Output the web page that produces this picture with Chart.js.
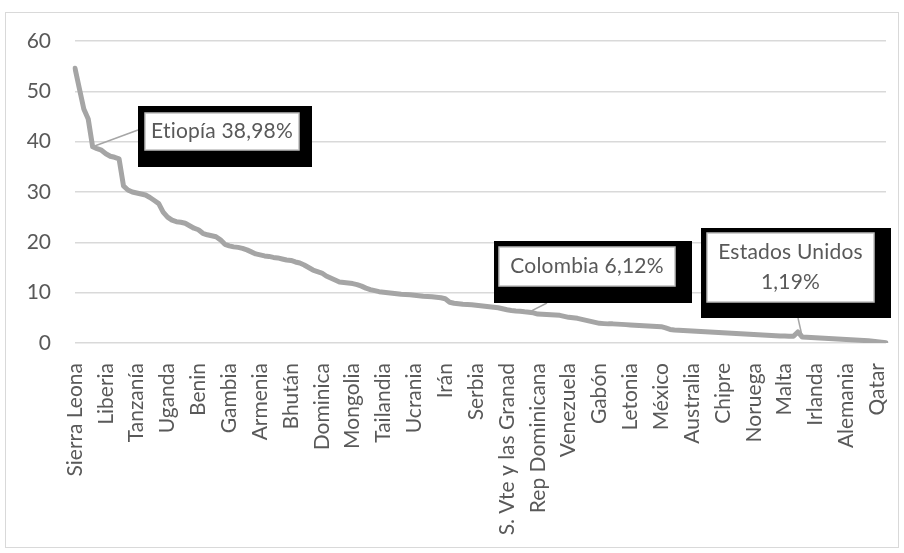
<!DOCTYPE html>
<html>
<head>
<meta charset="utf-8">
<script src="https://cdn.jsdelivr.net/npm/chart.js@4.4.1/dist/chart.umd.min.js"></script>
<style>
    html, body { margin: 0; padding: 0; background: #fff; }
    #wrap { position: relative; width: 904px; height: 553px; }
</style>
</head>
<body>
<div id="wrap"><canvas id="chart" width="904" height="553"></canvas></div>
<script>
// countries, sorted by share (%)
const countries = [
    'Sierra Leona','Chad','Rep. Centroafricana','Guinea-Bisáu','Etiopía','Níger','Malí','Liberia','Togo','Comoras',
    'Burundi','Kenia','Sudán','Burkina Faso','Tanzanía','Mozambique','Guinea','Madagascar','Nepal','Ruanda',
    'Malaui','Uganda','Afganistán','Camerún','Pakistán','Tayikistán','Myanmar','Kirguistán','Benin','Costa de Marfil',
    'Nigeria','Papúa Nueva Guinea','Haití','Islas Salomón','Camboya','Gambia','Ghana','Uzbekistán','Nicaragua','India',
    'Zambia','Laos','Armenia','Guyana','Vanuatu','Kiribati','Senegal','Mauritania','Albania','Bhután',
    'Bangladés','Vietnam','Timor Oriental','Honduras','Lesoto','Moldavia','Dominica','Belice','Paraguay','Georgia',
    'Zimbabue','Guatemala','Marruecos','Mongolia','Sri Lanka','Indonesia','Filipinas','Egipto','Tonga','Ecuador',
    'Tailandia','Argelia','Samoa','Bolivia','Malasia','Granada','Túnez','Ucrania','Azerbaiyán','Fiyi',
    'Bosnia y Herzegovina','Macedonia del Norte','Angola','China','Irán','Jamaica','El Salvador','Argentina','Turquía','Rumania',
    'Santa Lucía','Serbia','Uruguay','Bulgaria','Nueva Zelanda','Perú','Bielorrusia','Kazajistán','S. Vte y las Granad','Montenegro',
    'Costa Rica','Brasil','Esuatini','Colombia','Cabo Verde','Rep Dominicana','Croacia','Namibia','Grecia','Chile',
    'Lituania','Rusia','Venezuela','Hungría','Botsuana','Polonia','Islandia','San Cristóbal y Nieves','Panamá','Gabón',
    'Mauricio','Estonia','Eslovaquia','Maldivas','Jordania','Sudáfrica','Letonia','Líbano','Omán','Finlandia',
    'Barbados','España','Portugal','México','Corea del Sur','Israel','Francia','Italia','Eslovenia','Canadá',
    'Australia','Países Bajos','Austria','Dinamarca','Rep. Checa','Japón','Trinidad y Tobago','Chipre','Antigua y Barbuda','Bahamas',
    'Arabia Saudita','Suecia','Brunéi','Yibuti','Noruega','Suiza','Bélgica','Emiratos Árabes Unidos','Reino Unido','Puerto Rico',
    'Bermudas','Malta','Luxemburgo','Bahréin','Guinea Ecuatorial','Estados Unidos','Andorra','Liechtenstein','Irlanda','San Marino',
    'Kuwait','Aruba','Curazao','Islas Caimán','Macao','Alemania','Islas Vírgenes','Hong Kong','Guam','Gibraltar',
    'Mónaco','Palaos','Qatar','Singapur','Sint Maarten'
];

const shares = [
    54.6, 50.5, 46.5, 44.5, 38.98, 38.6, 38.3, 37.6, 37.1, 36.9,
    36.6, 31.2, 30.4, 30.0, 29.8, 29.6, 29.4, 28.9, 28.3, 27.7,
    26.0, 25.0, 24.4, 24.1, 24.0, 23.8, 23.3, 22.8, 22.5, 21.8,
    21.5, 21.3, 21.1, 20.5, 19.6, 19.3, 19.1, 19.0, 18.8, 18.5,
    18.1, 17.7, 17.5, 17.3, 17.2, 17.0, 16.9, 16.7, 16.5, 16.4,
    16.1, 15.9, 15.5, 15.0, 14.5, 14.2, 13.9, 13.3, 12.9, 12.5,
    12.1, 12.0, 11.9, 11.8, 11.6, 11.3, 10.9, 10.6, 10.4, 10.2,
    10.1, 10.0, 9.9, 9.8, 9.7, 9.65, 9.6, 9.5, 9.4, 9.3,
    9.25, 9.2, 9.1, 9.0, 8.8, 8.1, 7.9, 7.8, 7.7, 7.65,
    7.6, 7.5, 7.4, 7.3, 7.2, 7.1, 7.0, 6.8, 6.6, 6.45,
    6.35, 6.3, 6.2, 6.12, 6.0, 5.75, 5.7, 5.65, 5.6, 5.55,
    5.5, 5.3, 5.1, 5.0, 4.9, 4.7, 4.5, 4.3, 4.1, 3.9,
    3.85, 3.8, 3.8, 3.75, 3.7, 3.65, 3.6, 3.55, 3.5, 3.45,
    3.4, 3.35, 3.3, 3.25, 3.0, 2.7, 2.6, 2.55, 2.5, 2.45,
    2.4, 2.35, 2.3, 2.25, 2.2, 2.15, 2.1, 2.05, 2.0, 1.95,
    1.9, 1.85, 1.8, 1.75, 1.7, 1.65, 1.6, 1.55, 1.5, 1.45,
    1.4, 1.4, 1.35, 1.35, 2.2, 1.19, 1.15, 1.1, 1.05, 1.0,
    0.95, 0.9, 0.85, 0.8, 0.75, 0.7, 0.65, 0.6, 0.55, 0.5,
    0.45, 0.35, 0.25, 0.15, 0.05
];

const yTicks = [0, 10, 20, 30, 40, 50, 60];
const labelEvery = 7;
const calloutCountries = ['Etiopía', 'Colombia', 'Estados Unidos'];

const FONT = 'Lato';
const TEXT = '#595959';

// box placement for each callout (outer black box, inner white box, leader end)
const calloutBoxes = [
    { outer: [138, 106, 174, 61], inner: [145, 113, 154, 37], lead: [138, 130], wrap: false },
    { outer: [494, 241, 198, 62], inner: [499, 247, 176, 39], lead: [547, 303], wrap: false },
    { outer: [701, 228, 190, 90], inner: [707, 233, 167, 69], lead: [798, 318], wrap: true }
];

const fmt = v => v.toFixed(2).replace('.', ',');

const framePlugin = {
    id: 'frame',
    beforeDraw(chart) {
        const ctx = chart.ctx;
        ctx.save();
        ctx.strokeStyle = '#d9d9d9';
        ctx.lineWidth = 1;
        ctx.strokeRect(5.5, 12.5, 893, 535);
        ctx.restore();
    }
};

const calloutPlugin = {
    id: 'callouts',
    afterDatasetsDraw(chart) {
        const ctx = chart.ctx;
        const pts = chart.getDatasetMeta(0).data;
        ctx.save();
        calloutCountries.forEach((name, k) => {
            const idx = countries.indexOf(name);
            const p = pts[idx];
            const b = calloutBoxes[k];
            ctx.strokeStyle = '#a6a6a6';
            ctx.lineWidth = 1.5;
            ctx.beginPath();
            ctx.moveTo(p.x, p.y);
            ctx.lineTo(b.lead[0], b.lead[1]);
            ctx.stroke();

            ctx.fillStyle = '#000';
            ctx.fillRect(...b.outer);
            ctx.fillStyle = '#fff';
            ctx.fillRect(...b.inner);
            ctx.strokeStyle = '#bfbfbf';
            ctx.lineWidth = 1.5;
            ctx.strokeRect(...b.inner);

            ctx.fillStyle = TEXT;
            ctx.font = '21px ' + FONT;
            ctx.letterSpacing = '0.2px'; // keeps "ti" from turning into a ligature
            ctx.textAlign = 'center';
            ctx.textBaseline = 'middle';
            const cx = b.inner[0] + b.inner[2] / 2;
            const cy = b.inner[1] + b.inner[3] / 2;
            const val = fmt(shares[idx]) + '%';
            if (b.wrap) {
                ctx.fillText(name, cx, cy - 15);
                ctx.fillText(val, cx, cy + 15);
            } else {
                ctx.fillText(name + ' ' + val, cx, cy);
            }
        });
        ctx.restore();
    }
};

function renderChart() {
    const ctx = document.getElementById('chart');
    new Chart(ctx, {
        type: 'line',
        data: {
            labels: countries,
            datasets: [{
                data: shares,
                borderColor: '#a5a5a5',
                borderWidth: 5,
                pointRadius: 0,
                tension: 0,
                borderJoinStyle: 'round',
                borderCapStyle: 'round'
            }]
        },
        options: {
            responsive: false,
            animation: false,
            layout: { padding: { left: 0, top: 41, right: 18, bottom: 0 } },
            plugins: {
                legend: { display: false },
                tooltip: { enabled: false }
            },
            scales: {
                x: {
                    type: 'category',
                    offset: false,
                    grid: { display: false },
                    border: { display: false },
                    ticks: {
                        autoSkip: false,
                        minRotation: 90,
                        maxRotation: 90,
                        padding: 12,
                        color: TEXT,
                        font: { family: FONT, size: 21 },
                        callback: (v, i) => i % labelEvery === 0 ? countries[i] : ''
                    },
                    afterFit: s => {
                        s.height = 210;
                        s.paddingLeft = 0;
                        s.paddingRight = 0;
                    }
                },
                y: {
                    min: yTicks[0],
                    max: yTicks[yTicks.length - 1],
                    grid: { color: '#d9d9d9', lineWidth: 1.5, drawTicks: false },
                    border: { display: false },
                    afterBuildTicks: s => { s.ticks = yTicks.map(v => ({ value: v })); },
                    ticks: {
                        padding: 24,
                        color: TEXT,
                        font: { family: FONT, size: 21 }
                    },
                    afterFit: s => {
                        s.width = 75;
                        s.paddingTop = 0;
                        s.paddingBottom = 0;
                    }
                }
            }
        },
        plugins: [framePlugin, calloutPlugin]
    });
}

document.addEventListener('DOMContentLoaded', renderChart);
</script>
</body>
</html>
